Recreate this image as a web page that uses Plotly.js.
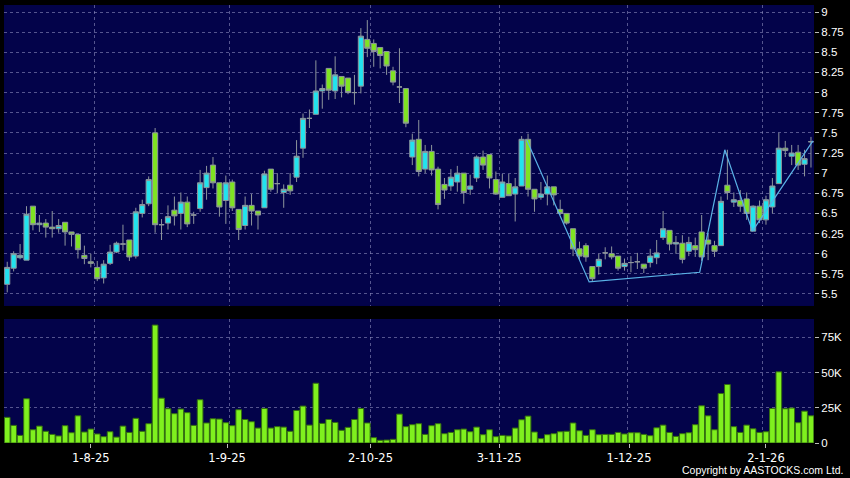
<!DOCTYPE html>
<html>
<head>
<meta charset="utf-8">
<script src="https://cdn.plot.ly/plotly-3.0.1.min.js"></script>
<style>
  html, body { margin: 0; padding: 0; background: #000; }
  #chart { width: 850px; height: 478px; }
</style>
</head>
<body>
<div id="chart"></div>
<script>
// ---- Data, one entry per trading day ----
const openP = [5.62,5.82,5.95,5.92,6.59,6.36,6.38,6.33,6.31,6.39,6.27,6.24,5.98,5.90,5.83,5.70,5.88,6.02,6.12,6.17,
  5.97,6.50,6.62,7.50,6.36,6.38,6.54,6.50,6.64,6.48,6.56,6.82,7.10,6.88,6.66,6.89,6.55,6.35,6.60,6.53,
  6.57,7.05,6.87,6.76,6.85,6.95,7.31,7.68,7.73,8.02,8.30,8.02,8.20,8.18,8.00,8.08,8.66,8.61,8.56,8.51,
  8.27,8.07,8.05,7.20,7.42,7.05,7.27,7.05,6.86,6.84,6.89,7.00,6.80,6.94,7.20,7.23,6.92,6.70,6.87,6.74,
  6.84,7.42,6.80,6.70,6.74,6.83,6.55,6.50,6.31,6.06,6.10,5.84,5.84,6.01,6.00,5.97,5.84,5.89,5.90,5.87,
  5.89,5.95,6.20,6.29,6.12,6.13,6.03,6.10,6.27,6.17,6.10,6.10,6.85,6.64,6.66,6.68,6.28,6.59,6.42,6.58,
  6.87,7.31,7.21,7.26,7.11,7.39];
const highP = [5.90,6.03,6.12,6.59,6.59,6.48,6.43,6.53,6.43,6.39,6.27,6.24,6.10,6.00,5.91,5.92,6.11,6.15,6.36,6.17,
  6.57,6.67,6.96,7.56,6.43,6.60,6.71,6.76,6.71,6.52,7.04,7.09,7.20,6.88,6.97,6.92,6.55,6.71,6.74,6.53,
  7.03,7.05,7.00,6.86,7.00,7.41,7.74,7.79,8.40,8.10,8.30,8.45,8.20,8.18,8.22,8.80,8.90,8.66,8.56,8.51,
  8.32,8.55,8.05,7.49,7.66,7.35,7.35,7.08,6.94,7.05,7.09,7.00,6.98,7.22,7.28,7.23,7.02,6.99,6.99,6.94,
  7.46,7.49,6.80,6.89,6.97,6.83,6.67,6.50,6.31,6.15,6.13,5.84,6.00,6.08,6.09,5.97,5.94,5.97,6.01,5.87,
  6.06,6.17,6.53,6.29,6.22,6.23,6.21,6.20,6.48,6.25,6.16,6.71,7.29,6.76,6.79,6.76,6.60,6.66,6.72,6.94,
  7.50,7.40,7.35,7.35,7.29,7.45];
const lowP = [5.52,5.78,5.93,5.92,6.29,6.27,6.20,6.20,6.26,6.10,6.09,5.94,5.87,5.83,5.66,5.63,5.86,6.01,6.04,5.91,
  5.94,6.45,6.59,6.26,6.17,6.30,6.35,6.30,6.33,6.37,6.52,6.67,6.81,6.46,6.37,6.53,6.17,6.30,6.35,6.30,
  6.57,6.77,6.75,6.57,6.73,6.89,7.19,7.56,7.73,7.80,7.91,7.92,7.94,7.98,7.85,7.99,8.44,8.32,8.30,8.22,
  8.09,7.87,7.57,7.10,6.96,7.00,6.97,6.55,6.68,6.78,6.77,6.62,6.73,6.89,7.04,6.81,6.73,6.70,6.72,6.40,
  6.84,6.71,6.52,6.67,6.60,6.60,6.48,6.36,5.97,5.92,5.90,5.65,5.74,5.93,5.93,5.79,5.79,5.77,5.81,5.76,
  5.83,5.87,6.17,6.04,6.00,5.88,5.97,5.96,5.91,5.92,5.96,6.10,6.67,6.58,6.52,6.42,6.28,6.38,6.36,6.50,
  6.87,7.20,7.10,7.04,6.96,7.07];
const closeP = [5.83,6.00,5.98,6.49,6.36,6.38,6.33,6.31,6.35,6.27,6.24,6.05,5.94,5.88,5.69,5.87,6.02,6.13,6.12,5.96,
  6.52,6.61,6.92,6.36,6.36,6.46,6.47,6.64,6.37,6.48,6.88,7.00,6.88,6.58,6.88,6.57,6.30,6.60,6.53,6.48,
  6.99,6.80,6.87,6.80,6.78,7.21,7.68,7.68,8.02,8.05,8.03,8.22,8.08,8.00,8.00,8.70,8.55,8.51,8.46,8.33,
  8.13,8.07,7.62,7.41,7.02,7.27,7.04,6.61,6.79,6.95,7.00,6.76,6.84,7.20,7.10,6.94,6.74,6.89,6.72,6.83,
  7.42,6.80,6.68,6.74,6.83,6.73,6.50,6.38,6.06,5.97,5.96,5.69,5.93,6.01,5.96,5.82,5.88,5.89,5.90,5.82,
  5.97,6.01,6.31,6.12,6.14,5.93,6.14,6.05,5.96,6.12,6.03,6.65,6.76,6.67,6.59,6.50,6.59,6.42,6.67,6.84,
  7.31,7.28,7.25,7.10,7.18,7.39];
const volume = [18200,12500,5400,31400,9400,12000,8300,6100,5000,12300,7300,19300,7800,9900,6400,4500,8000,4200,12000,7500,
  17500,8300,13700,83700,31800,24300,20800,24100,21500,12500,30700,14200,17200,17000,14400,12300,23600,16700,15100,10600,
  24500,10600,11600,11300,8300,23100,26200,12700,42400,13900,16700,14600,9000,11100,16700,24500,14200,3800,1900,2100,
  2600,20500,11600,13000,13700,6100,12300,13700,6600,7500,9400,9900,8000,11300,5900,9400,4500,5400,5000,10600,
  16500,19100,7800,3100,5900,6600,8000,8300,14200,8700,5400,9400,5900,6100,6100,7500,6400,7300,7300,6100,
  5200,10800,12700,7500,4700,6600,7300,13000,26400,19300,9400,35100,41500,11600,7500,12700,10100,7500,8000,24500,
  50500,24300,24800,14400,22600,19300];

// overlay line (pivot lines drawn on the reference)
const lineX = [80.8, 90.5, 107.7, 111.6, 115.9, 125.3];
const lineY = [7.41, 5.65, 5.77, 7.29, 6.28, 7.40];

// x-axis tick labels and their positions (in trading-day index)
const tickLabels = ['1-8-25', '1-9-25', '2-10-25', '3-11-25', '1-12-25', '2-1-26'];
const tickPos = [13, 34.2, 56.5, 76.5, 96.7, 118];
const gridPos = [13.5, 34.5, 56.5, 76.5, 96.5, 117.5];

const volTickVals = [0, 25000, 50000, 75000];
const volTickText = ['0', '25K', '50K', '75K'];

// ---- build traces ----
const idx = openP.map((_, i) => i);
const isDoji = openP.map((o, i) => o === closeP[i]);
const pick = (arr, want) => arr.filter((_, i) => isDoji[i] === want);

const CYAN = '#22E3EE';
const GREEN = '#7FE322';
const WICK = '#8E969C';
const GRID = 'rgba(140,140,190,0.6)';

const mainCandles = {
  type: 'candlestick',
  x: pick(idx, false), open: pick(openP, false), high: pick(highP, false),
  low: pick(lowP, false), close: pick(closeP, false),
  xaxis: 'x', yaxis: 'y',
  increasing: { fillcolor: CYAN, line: { color: WICK, width: 1 } },
  decreasing: { fillcolor: GREEN, line: { color: WICK, width: 1 } },
  hoverinfo: 'skip', showlegend: false
};
const dojiCandles = {
  type: 'candlestick',
  x: pick(idx, true), open: pick(openP, true), high: pick(highP, true),
  low: pick(lowP, true), close: pick(closeP, true),
  xaxis: 'x', yaxis: 'y',
  increasing: { fillcolor: WICK, line: { color: WICK, width: 1 } },
  decreasing: { fillcolor: WICK, line: { color: WICK, width: 1 } },
  hoverinfo: 'skip', showlegend: false
};
const pivotLine = {
  type: 'scatter', mode: 'lines', x: lineX, y: lineY,
  xaxis: 'x', yaxis: 'y',
  line: { color: '#5AB2E6', width: 1.2 },
  hoverinfo: 'skip', showlegend: false
};
const volBars = {
  type: 'bar', x: idx, y: volume, xaxis: 'x', yaxis: 'y2',
  marker: { color: '#7FF01E', line: { color: '#356F10', width: 1 } },
  hoverinfo: 'skip', showlegend: false
};

const layout = {
  width: 850, height: 478,
  paper_bgcolor: '#000000',
  plot_bgcolor: '#03034A',
  margin: { l: 4, r: 36, t: 5, b: 35 },
  showlegend: false,
  hovermode: false,
  boxgap: 0.2, boxgroupgap: 0,
  bargap: 0.12,
  xaxis: {
    range: [-0.5, 125.47],
    anchor: 'y2',
    rangeslider: { visible: false },
    tickmode: 'array', tickvals: tickPos, ticktext: tickLabels,
    ticks: 'outside', ticklen: 4, tickcolor: '#bbbbbb',
    showgrid: false, zeroline: false, showline: false,
    tickfont: { family: 'DejaVu Sans', size: 11.5, color: '#ffffff' },
    minor: { tickmode: 'array', tickvals: gridPos, showgrid: true, gridcolor: GRID, griddash: '3px,3px', gridwidth: 1, ticks: '' }
  },
  yaxis: {
    domain: [0.3128, 1],
    range: [5.351, 9.087],
    anchor: 'x', side: 'right',
    tick0: 0, dtick: 0.25,
    ticks: 'outside', ticklen: 4, tickcolor: '#bbbbbb',
    showgrid: true, gridcolor: GRID, griddash: '3px,3px', gridwidth: 1,
    zeroline: false, showline: false,
    tickfont: { family: 'Liberation Sans', size: 11.5, color: '#ffffff' }
  },
  yaxis2: {
    domain: [0, 0.2831],
    range: [0, 88000],
    anchor: 'x', side: 'right',
    tickmode: 'array', tickvals: volTickVals, ticktext: volTickText,
    ticks: 'outside', ticklen: 4, tickcolor: '#bbbbbb',
    showgrid: true, gridcolor: GRID, griddash: '3px,3px', gridwidth: 1,
    zeroline: false, showline: false,
    tickfont: { family: 'Liberation Sans', size: 11.5, color: '#ffffff' }
  },
  annotations: [{
    text: 'Copyright by AASTOCKS.com Ltd.',
    xref: 'paper', yref: 'paper', x: 1.038, y: -0.062,
    xanchor: 'right', yanchor: 'middle', showarrow: false,
    font: { family: 'Liberation Sans', size: 10.5, color: '#ffffff' }
  }]
};

Plotly.newPlot('chart', [mainCandles, dojiCandles, volBars, pivotLine], layout, { displayModeBar: false, staticPlot: true });
</script>
</body>
</html>
